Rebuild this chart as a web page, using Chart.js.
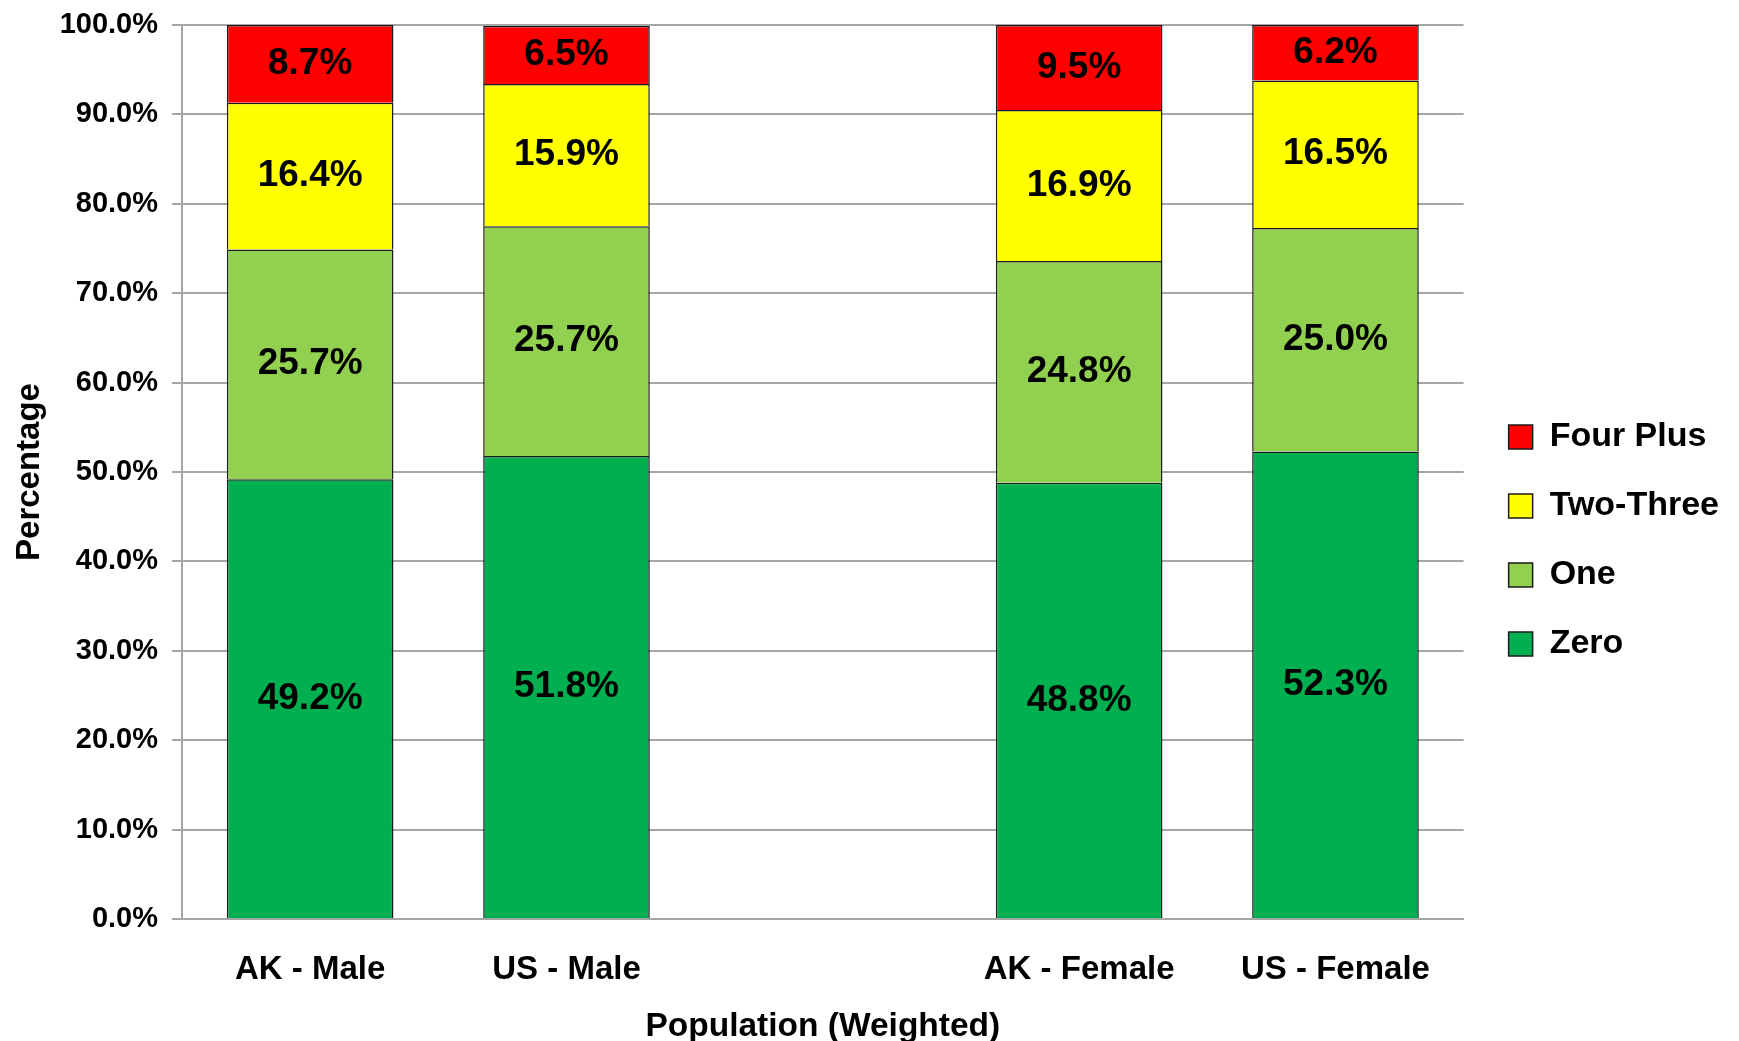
<!DOCTYPE html>
<html>
<head>
  <meta charset="UTF-8">
  <title>Population (Weighted)</title>
  <style>
    body { margin: 0; background: #fff; }
    #wrap { width: 1739px; height: 1041px; }
  </style>
</head>
<body>
<div id="wrap">
  <canvas id="myChart"></canvas>
</div>
<script src="https://cdn.jsdelivr.net/npm/chart.js"></script>
<script>
// categories (the empty one is the gap between male and female)
const labels = ['AK - Male', 'US - Male', '', 'AK - Female', 'US - Female'];

const zero     = [49.2, 51.8, null, 48.8, 52.3];
const one      = [25.7, 25.7, null, 24.8, 25.0];
const twoThree = [16.4, 15.9, null, 16.9, 16.5];
const fourPlus = [8.7, 6.5, null, 9.5, 6.2];

const yTicks = [0, 10, 20, 30, 40, 50, 60, 70, 80, 90, 100];

const FONT = "'Liberation Sans', Arial, sans-serif";
const gridGray = '#a6a6a6';

// draws the percentage inside each bar segment
const segLabels = {
  id: 'segLabels',
  afterDatasetsDraw(chart) {
    const ctx = chart.ctx;
    ctx.save();
    ctx.font = 'bold 37px ' + FONT;
    ctx.fillStyle = '#000';
    ctx.textAlign = 'center';
    ctx.textBaseline = 'middle';
    chart.data.datasets.forEach((ds, i) => {
      const meta = chart.getDatasetMeta(i);
      meta.data.forEach((bar, j) => {
        const v = ds.data[j];
        if (v == null) return;
        ctx.fillText(v.toFixed(1) + '%', bar.x, (bar.y + bar.base) / 2);
      });
    });
    ctx.restore();
  }
};

// widen the legend box a bit and nudge it, excel leaves more room on the right
const legendNudge = {
  id: 'legendNudge',
  afterInit(chart) {
    const lg = chart.legend;
    const fit = lg.fit;
    lg.fit = function () { fit.call(this); this.width += 16; };
  },
  afterLayout(chart) {
    const lg = chart.legend;
    lg.left += 10; lg.right += 10;
    lg.top += 17; lg.bottom += 17;
  }
};

const data = {
  labels: labels,
  datasets: [
    { label: 'Zero', data: zero, backgroundColor: '#00b050' },
    { label: 'One', data: one, backgroundColor: '#92d050' },
    { label: 'Two-Three', data: twoThree, backgroundColor: '#ffff00' },
    { label: 'Four Plus', data: fourPlus, backgroundColor: '#ff0000' },
  ].map(d => Object.assign(d, {
    borderColor: '#1a1a1a',
    borderWidth: 1.5,
    categoryPercentage: 1,
    barPercentage: 0.65,
  }))
};

const config = {
  type: 'bar',
  data: data,
  plugins: [segLabels, legendNudge],
  options: {
    responsive: true,
    maintainAspectRatio: false,
    animation: false,
    layout: { padding: { left: 10, top: 0, right: 4, bottom: -6 } },
    plugins: {
      tooltip: { enabled: false },
      legend: {
        position: 'right',
        reverse: true,
        labels: {
          color: '#000',
          font: { family: FONT, size: 34, weight: 'bold' },
          boxWidth: 24,
          boxHeight: 24,
          padding: 35,
        }
      }
    },
    scales: {
      x: {
        stacked: true,
        grid: { display: false, drawTicks: false },
        border: { color: gridGray, width: 2 },
        afterFit: axis => { axis.height = 128; },
        ticks: {
          color: '#000',
          padding: 31,
          font: { family: FONT, size: 33, weight: 'bold' },
        },
        title: {
          display: true,
          text: 'Population (Weighted)',
          color: '#000',
          font: { family: FONT, size: 33.5, weight: 'bold' },
          padding: { top: 6, bottom: 0 },
        }
      },
      y: {
        stacked: true,
        min: 0,
        max: 100,
        afterBuildTicks: axis => { axis.ticks = yTicks.map(v => ({ value: v })); },
        afterFit: axis => { axis.width = 172; axis.paddingTop = 25; },
        grid: { color: gridGray, lineWidth: 2, tickLength: 10 },
        border: { color: gridGray, width: 2 },
        ticks: {
          color: '#000',
          padding: 14,
          font: { family: FONT, size: 29, weight: 'bold' },
          callback: v => v.toFixed(1) + '%',
        },
        title: {
          display: true,
          text: 'Percentage',
          color: '#000',
          font: { family: FONT, size: 33, weight: 'bold' },
          padding: { top: 0, bottom: 4 },
        }
      }
    }
  }
};

const myChart = new Chart(document.getElementById('myChart'), config);
</script>
</body>
</html>
